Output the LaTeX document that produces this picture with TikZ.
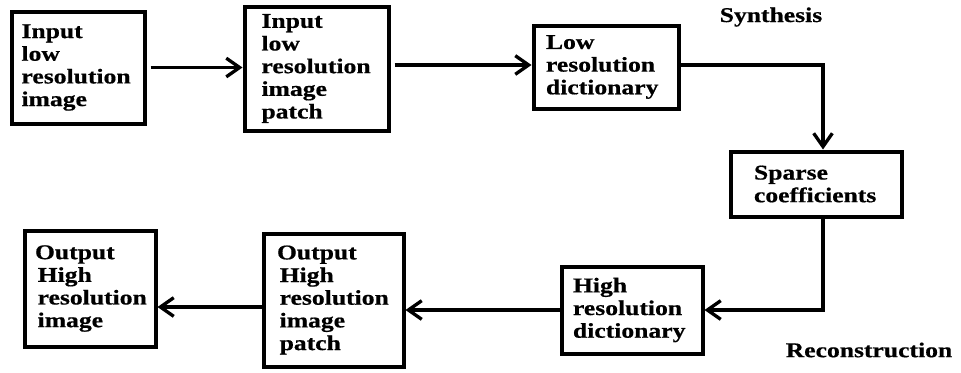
\documentclass[tikz,border=0pt]{standalone}
\usepackage{fontspec}
\setmainfont[FakeStretch=1.22,BoldFeatures={FakeBold=0.6}]{Liberation Serif}
\usetikzlibrary{arrows.meta,calc}
\newlength{\pxu}\setlength{\pxu}{0.75pt}
\begin{document}
\begin{tikzpicture}[x=0.75pt,y=-0.75pt,
  every node/.style={font=\fontsize{15.75}{17}\selectfont\bfseries,execute at begin node={\hyphenpenalty=10000 \hbadness=10000 \hfuzz=100pt}},
  blk/.style={draw=black,line width=3pt,fill=white,align=left,inner sep=0pt},
  conn/.style={line width=2.7pt,-{Straight Barb[length=10pt,width=14pt,line width=2.5pt]}},
  lbl/.style={inner sep=0pt}]
\useasboundingbox (0,0) rectangle (961,372);
\node[blk,minimum width=133\pxu,minimum height=112\pxu,text width=113\pxu] (b1) at (78,67.5) {Input\\low\\resolution\\image};
\node[blk,minimum width=144\pxu,minimum height=124\pxu,text width=110\pxu] (b2) at (316.5,68.5) {Input\\low\\resolution\\image\\patch};
\node[blk,minimum width=145\pxu,minimum height=83\pxu,text width=120\pxu] (b3) at (606,67) {Low\\resolution\\dictionary};
\node[blk,minimum width=171\pxu,minimum height=65\pxu,text width=124\pxu] (sp) at (816,184) {Sparse\\coefficients};
\node[blk,minimum width=141\pxu,minimum height=87\pxu,text width=118\pxu] (hrd) at (632,310) {High\\resolution\\dictionary};
\node[blk,minimum width=140\pxu,minimum height=133\pxu,text width=113\pxu] (b5) at (333.5,300) {Output\\\hspace*{2pt}High\\\hspace*{2pt}resolution\\\hspace*{2pt}image\\\hspace*{2pt}patch};
\node[blk,minimum width=131\pxu,minimum height=116\pxu,text width=110\pxu] (b6) at (90,288.5) {Output\\\hspace*{2pt}High\\\hspace*{2pt}resolution\\\hspace*{2pt}image};
\node[lbl] (syn) at (771,17) {Synthesis};
\node[lbl] (rec) at (869,350) {Reconstruction};
\coordinate (c1) at (823,65);
\coordinate (c2) at (823,310);
\coordinate (c3) at (0,307);
\draw[conn,shorten <=3pt] (b1.east) -- (b2.west |- b1.east);
\draw[conn,shorten <=3pt] (b2.east |- c1) -- (b3.west |- c1);
\draw[conn] (b3.east |- c1) -- (c1) -- (c1 |- sp.north);
\draw[conn] (sp.south -| c2) -- (c2) -- (hrd.east |- c2);
\draw[conn] (hrd.west) -- (b5.east |- hrd.west);
\draw[conn] (b5.west |- c3) -- (b6.east |- c3);
\end{tikzpicture}
\end{document}
